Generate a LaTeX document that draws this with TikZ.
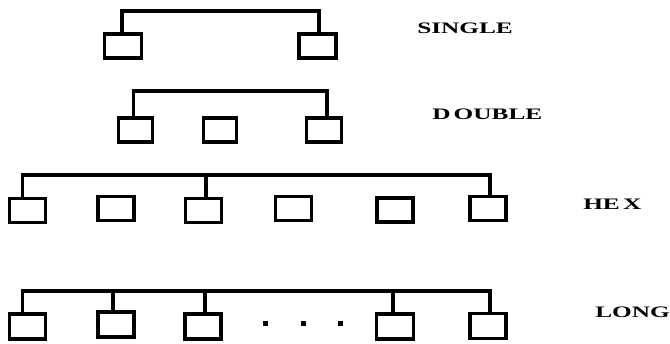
\documentclass[tikz,border=0pt]{standalone}
\usepackage{fontspec}
\setmainfont{Liberation Serif}
\begin{document}
\begin{tikzpicture}[x=1pt,y=-1pt,
  unit/.style={draw,line width=3.4pt,rectangle,inner sep=0pt,outer sep=0pt,minimum width=36pt,minimum height=24pt},
  wire/.style={line width=3.4pt},
  dotmark/.style={fill,rectangle,inner sep=0pt,minimum size=5pt},
  lbl/.style={anchor=west,inner sep=0pt,font=\bfseries\fontsize{16}{16}\selectfont,xscale=1.58}]
\useasboundingbox (0,0) rectangle (670,344);
\coordinate (sb) at (0,11);
\coordinate (db) at (0,91);
\coordinate (hb) at (0,175);
\coordinate (lb) at (0,291);
% SINGLE
\node[unit,minimum width=37pt] (s1) at (123,46) {};
\node[unit,minimum width=37pt] (s2) at (317.5,46) {};
\draw[wire] ([xshift=-1pt]s1.north) -- ([xshift=-1pt]s1.north |- sb) -| ([xshift=1.5pt]s2.north);
\node[lbl] (ls) at (417,28) {SINGLE};
% DOUBLE
\node[unit,minimum width=34pt] (d1) at (135.5,130) {};
\node[unit,minimum width=33pt] (d2) at (220,130) {};
\node[unit,minimum width=35pt] (d3) at (324,130) {};
\draw[wire] ([xshift=-2pt]d1.north) -- ([xshift=-2pt]d1.north |- db) -| ([xshift=3pt]d3.north);
\node[lbl] (ld) at (432,114) {D\hspace{2pt}OUBLE};
% HEX
\node[unit] (h1) at (27.5,210.5) {};
\node[unit] (h2) at (116,208.5) {};
\node[unit] (h3) at (203.5,210.5) {};
\node[unit] (h4) at (293.5,208.5) {};
\node[unit] (h5) at (395,210) {};
\node[unit] (h6) at (488,208.5) {};
\draw[wire] ([xshift=-5pt]h1.north) -- ([xshift=-5pt]h1.north |- hb) -| ([xshift=2pt]h6.north);
\draw[wire] ([xshift=2.5pt]h3.north) -- ([xshift=2.5pt]h3.north |- hb);
\node[lbl] (lh) at (583,204) {HE\hspace{2pt}X};
% LONG
\node[unit,minimum height=25pt] (l1) at (27.5,326.5) {};
\node[unit,minimum height=25pt] (l2) at (116,324.5) {};
\node[unit,minimum height=25pt] (l3) at (203,326.5) {};
\node[dotmark] (p1) at (265,324) {};
\node[dotmark] (p2) at (303,324) {};
\node[dotmark] (p3) at (340,324) {};
\node[unit,minimum height=25pt,minimum width=37pt] (l4) at (395,326.5) {};
\node[unit,minimum height=25pt] (l5) at (488,326) {};
\draw[wire] ([xshift=-5pt]l1.north) -- ([xshift=-5pt]l1.north |- lb) -| ([xshift=2pt]l5.north);
\draw[wire] ([xshift=-3pt]l2.north) -- ([xshift=-3pt]l2.north |- lb);
\draw[wire] ([xshift=2pt]l3.north) -- ([xshift=2pt]l3.north |- lb);
\draw[wire] ([xshift=-2pt]l4.north) -- ([xshift=-2pt]l4.north |- lb);
\node[lbl] (ll) at (595,312) {LONG};
\end{tikzpicture}
\end{document}
